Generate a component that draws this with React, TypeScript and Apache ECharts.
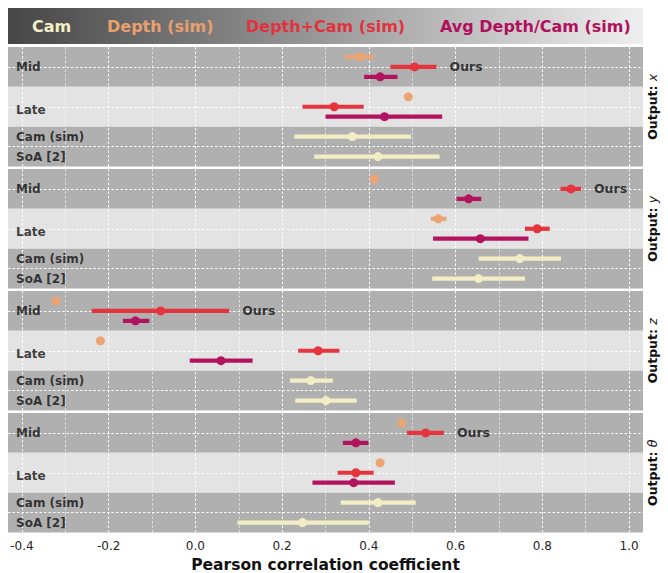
import React, { useEffect, useRef } from "react";
import * as echarts from "echarts";

// Axis range and tick values (Pearson r)
const X_MIN = -0.432;
const X_MAX = 1.032;
const MAJOR_TICKS = [-0.4, -0.2, 0.0, 0.2, 0.4, 0.6, 0.8, 1.0];
const MINOR_GRID = [-0.3, -0.1, 0.1, 0.3, 0.5, 0.7, 0.9];

// Row layout inside each panel
const ROW_TICKS = [0, 1, 2];
const ROW_LABELS = ["Mid", "Late", "Cam (sim)", "SoA [2]"];
const ROW_LABEL_POS = [0, 1.08, 1.75, 2.25];
const BANDS: [number, number, string][] = [
  [-0.5, 0.5, "#b0b0b0"],
  [0.5, 1.5, "#e3e3e3"],
  [1.5, 2.5, "#b0b0b0"],
];

// Output variables, one panel each
const OUTPUTS = ["x", "y", "z", "θ"];

// Methods and their colours
const METHODS = ["Cam", "Depth (sim)", "Depth+Cam (sim)", "Avg Depth/Cam (sim)"];
const COLORS = ["#f2edc4", "#eba472", "#e6343f", "#b3125f"];
const LEGEND_COLORS = ["#f5efc6", "#e9a06e", "#e2323e", "#b1105d"];

// [estimate, CI low, CI high] per panel (x, y, z, θ)
const DEPTH_MID = [
  [0.379, 0.345, 0.412],
  [0.412, 0.405, 0.419],
  [-0.321, -0.328, -0.314],
  [0.476, 0.469, 0.483],
];
const DEPTH_LATE = [
  [0.491, 0.484, 0.498],
  [0.56, 0.543, 0.579],
  [-0.219, -0.226, -0.212],
  [0.426, 0.419, 0.433],
];
const FUSED_MID = [
  [0.505, 0.45, 0.556],
  [0.866, 0.842, 0.889],
  [-0.08, -0.239, 0.078],
  [0.531, 0.488, 0.573],
];
const FUSED_LATE = [
  [0.32, 0.247, 0.388],
  [0.788, 0.76, 0.817],
  [0.283, 0.237, 0.332],
  [0.37, 0.328, 0.411],
];
const AVG_MID = [
  [0.426, 0.389, 0.466],
  [0.63, 0.602, 0.659],
  [-0.138, -0.167, -0.106],
  [0.37, 0.34, 0.399],
];
const AVG_LATE = [
  [0.436, 0.3, 0.569],
  [0.657, 0.548, 0.768],
  [0.059, -0.013, 0.132],
  [0.365, 0.27, 0.46],
];
const CAM_SIM = [
  [0.362, 0.228, 0.497],
  [0.748, 0.653, 0.843],
  [0.266, 0.218, 0.317],
  [0.421, 0.335, 0.508],
];
const SOA = [
  [0.421, 0.274, 0.563],
  [0.653, 0.546, 0.76],
  [0.301, 0.23, 0.372],
  [0.247, 0.097, 0.4],
];

// Vertical slot of each row (Mid = 0, Late = 1, Cam(sim)/SoA share the bottom band)
const POS_DEPTH = [-0.25, 0.75];
const POS_FUSED = [0, 1];
const POS_AVG = [0.25, 1.25];
const POS_CAM = [1.75, 2.25];

const PANEL_TOPS = [47, 169, 291, 413];
const PANEL_HEIGHT = 119.5;
const PLOT_LEFT = 8;
const PLOT_WIDTH = 635;
const FONT = "DejaVu Sans";

function errorBarSeries(panel: number, name: string, color: string, rows: number[][], pos: number[]) {
  return {
    type: "custom",
    name,
    xAxisIndex: panel * 2,
    yAxisIndex: panel * 2,
    z: 5,
    silent: true,
    dimensions: ["v", "lo", "hi", "row"],
    encode: { x: [0, 1, 2], y: 3 },
    data: rows.map((r, k) => [r[0], r[1], r[2], pos[k]]),
    renderItem: (_params: any, api: any) => {
      const row = api.value(3);
      const p = api.coord([api.value(0), row]);
      const a = api.coord([api.value(1), row]);
      const b = api.coord([api.value(2), row]);
      return {
        type: "group",
        children: [
          {
            type: "line",
            shape: { x1: a[0], y1: a[1], x2: b[0], y2: b[1] },
            style: { stroke: color, lineWidth: 4.2 },
          },
          {
            type: "circle",
            shape: { cx: p[0], cy: p[1], r: 4.5 },
            style: { fill: color },
          },
        ],
      };
    },
  };
}

function buildOption() {
  const grid: any[] = [];
  const xAxis: any[] = [];
  const yAxis: any[] = [];
  const series: any[] = [];

  const tickStyle = { color: "#222", width: 1 };

  OUTPUTS.forEach((_, i) => {
    grid.push({
      left: PLOT_LEFT,
      width: PLOT_WIDTH,
      top: PANEL_TOPS[i],
      height: PANEL_HEIGHT,
      containLabel: false,
      outerBoundsMode: "none",
    });
    const isLast = i === OUTPUTS.length - 1;
    xAxis.push({
      gridIndex: i,
      type: "value",
      min: X_MIN,
      max: X_MAX,
      position: "bottom",
      axisLine: { show: false },
      axisTick: { show: true, inside: true, length: 5, lineStyle: tickStyle, customValues: MAJOR_TICKS },
      axisLabel: isLast
        ? {
            show: true,
            customValues: MAJOR_TICKS,
            formatter: (v: number) => v.toFixed(1),
            color: "#262626",
            fontSize: 12,
            fontFamily: FONT,
            margin: 7,
          }
        : { show: false },
      splitLine: { show: false },
      name: isLast ? "Pearson correlation coefficient" : "",
      nameLocation: "middle",
      nameGap: 24,
      nameTextStyle: { fontFamily: FONT, fontWeight: "bold", fontSize: 15.5, color: "#111", lineHeight: 17 },
    });
    xAxis.push({
      gridIndex: i,
      type: "value",
      min: X_MIN,
      max: X_MAX,
      position: "top",
      axisLine: { show: false },
      axisTick: { show: true, inside: true, length: 5, lineStyle: tickStyle, customValues: MAJOR_TICKS },
      axisLabel: { show: false },
      splitLine: { show: false },
    });
    for (const side of ["left", "right"]) {
      yAxis.push({
        gridIndex: i,
        type: "value",
        inverse: true,
        min: -0.5,
        max: 2.5,
        position: side,
        axisLine: { show: false },
        axisTick: { show: true, inside: true, length: 4, lineStyle: tickStyle, customValues: ROW_TICKS },
        axisLabel: { show: false },
        splitLine: { show: false },
      });
    }

    // background bands
    series.push({
      type: "scatter",
      xAxisIndex: i * 2,
      yAxisIndex: i * 2,
      data: [],
      silent: true,
      z: 1,
      markArea: {
        silent: true,
        data: BANDS.map(([a, b, c]) => [
          { yAxis: a, itemStyle: { color: c } },
          { yAxis: b },
        ]),
      },
    });

    // dotted grid
    const dotted = (opacity: number) => ({ color: "#ffffff", width: 1, type: [2.5, 2], opacity });
    series.push({
      type: "scatter",
      xAxisIndex: i * 2,
      yAxisIndex: i * 2,
      data: [],
      silent: true,
      z: 2,
      markLine: {
        silent: true,
        symbol: ["none", "none"],
        label: { show: false },
        data: [
          ...MAJOR_TICKS.map((v) => ({ xAxis: v, lineStyle: dotted(0.95) })),
          ...MINOR_GRID.map((v) => ({ xAxis: v, lineStyle: dotted(0.6) })),
          ...ROW_TICKS.map((v) => ({ yAxis: v, lineStyle: dotted(0.95) })),
        ],
      },
    });

    series.push(errorBarSeries(i, METHODS[1], COLORS[1], [DEPTH_MID[i], DEPTH_LATE[i]], POS_DEPTH));
    series.push(errorBarSeries(i, METHODS[2], COLORS[2], [FUSED_MID[i], FUSED_LATE[i]], POS_FUSED));
    series.push(errorBarSeries(i, METHODS[3], COLORS[3], [AVG_MID[i], AVG_LATE[i]], POS_AVG));
    series.push(errorBarSeries(i, METHODS[0], COLORS[0], [CAM_SIM[i], SOA[i]], POS_CAM));

    // "Ours" tag after the upper end of the mid-fusion interval
    series.push({
      type: "scatter",
      xAxisIndex: i * 2,
      yAxisIndex: i * 2,
      symbolSize: 0,
      silent: true,
      z: 6,
      data: [[FUSED_MID[i][2], POS_FUSED[0]]],
      label: {
        show: true,
        position: "right",
        distance: 13,
        formatter: "Ours",
        fontFamily: FONT,
        fontWeight: "bold",
        fontSize: 12.5,
        color: "#111",
      },
    });

    // row names inside the plot
    series.push({
      type: "scatter",
      xAxisIndex: i * 2,
      yAxisIndex: i * 2,
      symbolSize: 0,
      silent: true,
      z: 6,
      data: ROW_LABEL_POS.map((y, k) => ({ value: [X_MIN, y], name: ROW_LABELS[k] })),
      label: {
        show: true,
        position: "right",
        distance: 8,
        formatter: (p: any) => p.name,
        fontFamily: FONT,
        fontWeight: "bold",
        fontSize: 12,
        color: "#111",
      },
    });
  });

  const legendX = [32, 107, 246, 440];
  const graphic: any[] = [
    {
      type: "rect",
      shape: { x: PLOT_LEFT, y: 8, width: PLOT_WIDTH, height: 36 },
      style: {
        fill: new echarts.graphic.LinearGradient(0, 0, 1, 0, [
          { offset: 0, color: "#464646" },
          { offset: 1, color: "#efefef" },
        ]),
      },
      silent: true,
    },
    ...METHODS.map((m, k) => ({
      type: "text",
      x: legendX[k],
      y: 26,
      silent: true,
      style: {
        text: m,
        fill: LEGEND_COLORS[k],
        font: `bold 16px '${FONT}'`,
        align: "left",
        verticalAlign: "middle",
      },
    })),
    ...OUTPUTS.map((o, i) => ({
      type: "text",
      x: 652,
      y: PANEL_TOPS[i] + PANEL_HEIGHT / 2,
      rotation: Math.PI / 2,
      silent: true,
      style: {
        text: `{b|Output: }{m|${o}}`,
        align: "center",
        verticalAlign: "middle",
        rich: {
          b: { fontFamily: FONT, fontWeight: "bold", fontSize: 12.5, fill: "#111" },
          m: { fontFamily: FONT, fontStyle: "italic", fontSize: 12.5, fill: "#111" },
        },
      },
    })),
  ];

  return {
    animation: false,
    backgroundColor: "#ffffff",
    grid,
    xAxis,
    yAxis,
    series,
    graphic,
  };
}

export default function App() {
  const ref = useRef<HTMLDivElement>(null);
  useEffect(() => {
    if (!ref.current) return;
    const chart = echarts.init(ref.current, undefined, { renderer: "svg" });
    chart.setOption(buildOption() as any);
    return () => chart.dispose();
  }, []);
  return (
    <div
      ref={ref}
      style={{ position: "fixed", left: 0, top: 0, width: 668, height: 573 }}
    />
  );
}
